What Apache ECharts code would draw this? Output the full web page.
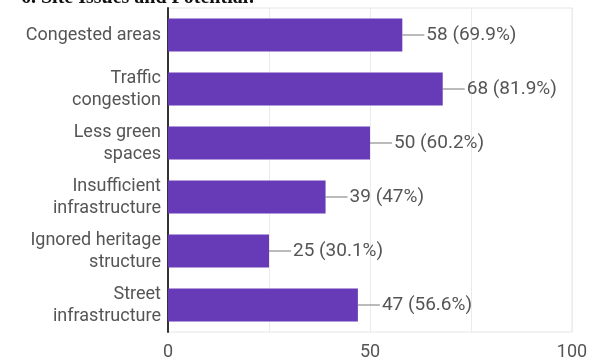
<!DOCTYPE html>
<html>
<head>
<meta charset="utf-8">
<script src="https://cdn.jsdelivr.net/npm/echarts@6/dist/echarts.min.js"></script>
<style>
  html, body { margin: 0; padding: 0; background: #fff; }
  #chart { width: 602px; height: 361px; }
</style>
</head>
<body>
<div id="chart"></div>
<script>
  // data
  const categories = [
    'Congested areas',
    'Traffic\ncongestion',
    'Less green\nspaces',
    'Insufficient\ninfrastructure',
    'Ignored heritage\nstructure',
    'Street\ninfrastructure'
  ];
  const counts = [58, 68, 50, 39, 25, 47];
  const percents = ['69.9%', '81.9%', '60.2%', '47%', '30.1%', '56.6%'];
  const tickLabels = [0, 50, 100];

  const chart = echarts.init(document.getElementById('chart'));

  const option = {
    animation: false,
    backgroundColor: '#fff',
    title: {
      text: '6. Site Issues and Potential:',
      left: 16,
      top: -17,
      textStyle: {
        fontFamily: 'Liberation Serif',
        fontWeight: 'bold',
        fontSize: 20,
        color: '#111'
      }
    },
    grid: {
      left: 168,
      right: 30,
      top: 8,
      bottom: 29,
      show: true,
      borderColor: '#e6e6e6',
      borderWidth: 1
    },
    xAxis: {
      type: 'value',
      min: 0,
      max: 100,
      interval: 25,
      axisLine: { show: false },
      axisTick: { show: false },
      splitLine: { lineStyle: { color: '#ebebeb', width: 1 } },
      axisLabel: {
        color: '#555',
        fontFamily: 'Roboto',
        fontSize: 18,
        margin: 11,
        formatter: function (v) {
          return tickLabels.indexOf(v) >= 0 ? String(v) : '';
        }
      }
    },
    yAxis: {
      type: 'category',
      inverse: true,
      data: categories,
      axisLine: { show: true, lineStyle: { color: '#333', width: 2 } },
      axisTick: { show: false },
      axisLabel: {
        color: '#555',
        fontFamily: 'Roboto',
        fontSize: 18,
        lineHeight: 22,
        margin: 7,
        align: 'right'
      }
    },
    series: [
      {
        type: 'bar',
        data: counts,
        barCategoryGap: '39%',
        itemStyle: { color: '#673ab7' },
        label: {
          show: true,
          position: 'right',
          distance: 0,
          formatter: function (p) {
            return '{line|}' + '{txt|' + p.value + ' (' + percents[p.dataIndex] + ')}';
          },
          rich: {
            line: {
              width: 22,
              height: 1,
              backgroundColor: '#777'
            },
            txt: {
              fontFamily: 'Roboto',
              fontSize: 19,
              color: '#555',
              padding: [0, 0, 0, 2]
            }
          }
        }
      }
    ]
  };

  chart.setOption(option);
  window.addEventListener('resize', () => {
    chart.resize();
  });
</script>
</body>
</html>
